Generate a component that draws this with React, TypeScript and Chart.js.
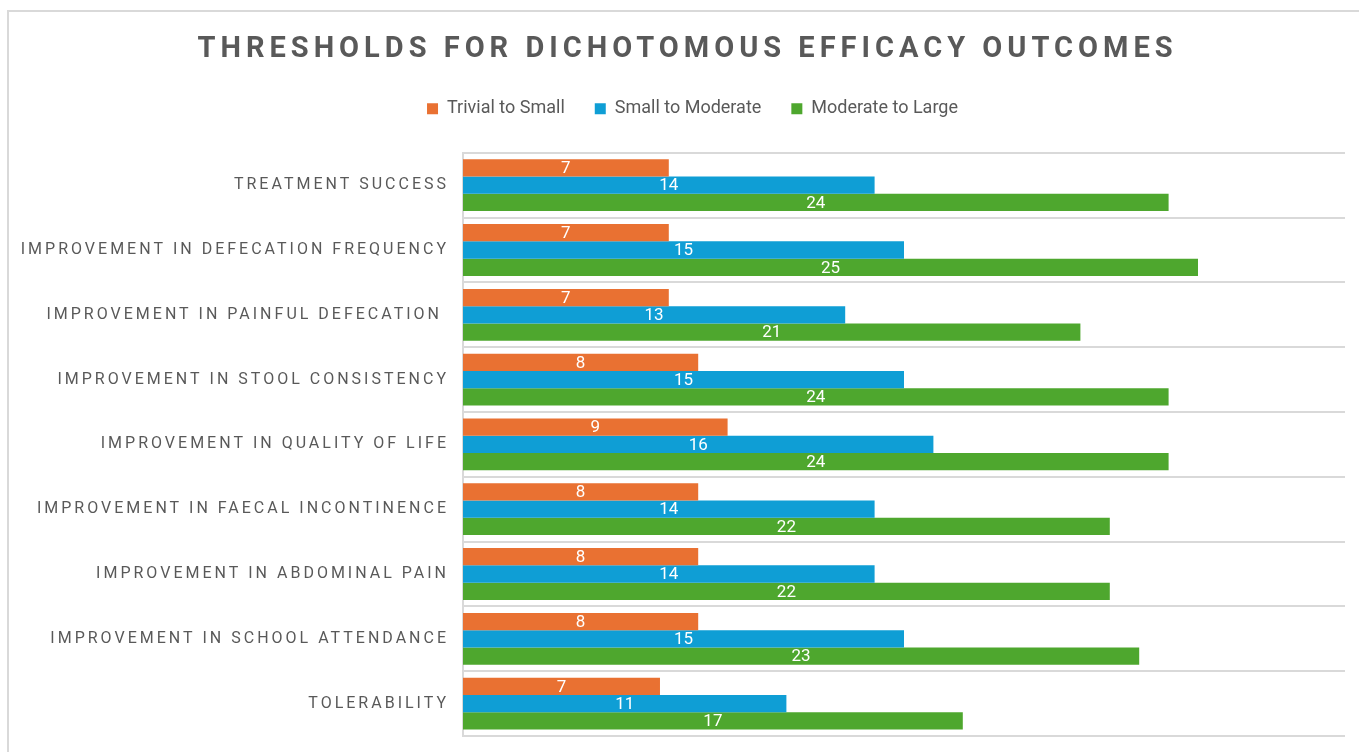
import React, { useEffect, useRef } from "react";
import { Chart, registerables } from "chart.js";

Chart.register(...registerables);

const TITLE = "THRESHOLDS FOR DICHOTOMOUS EFFICACY OUTCOMES";

const categories = [
  "TREATMENT SUCCESS",
  "IMPROVEMENT IN DEFECATION FREQUENCY",
  "IMPROVEMENT IN PAINFUL DEFECATION ",
  "IMPROVEMENT IN STOOL CONSISTENCY",
  "IMPROVEMENT IN QUALITY OF LIFE",
  "IMPROVEMENT IN FAECAL INCONTINENCE",
  "IMPROVEMENT IN ABDOMINAL PAIN",
  "IMPROVEMENT IN SCHOOL ATTENDANCE",
  "TOLERABILITY",
];

const seriesNames = ["Trivial to Small", "Small to Moderate", "Moderate to Large"];
const trivialToSmall = [7, 7, 7, 8, 9, 8, 8, 8, 6.7];
const smallToModerate = [14, 15, 13, 15, 16, 14, 14, 15, 11];
const moderateToLarge = [24, 25, 21, 24, 24, 22, 22, 23, 17];
const seriesColors = ["#E97132", "#0F9ED5", "#4EA72E"];

const X_MIN = 0;
const X_MAX = 30;

const TEXT_COLOR = "#595959";
const GRID_COLOR = "#d9d9d9";
const LEGEND_EXTRA = 25;
const LEGEND_SHIFT = 5;

const helperPlugin = {
  id: "helperPlugin",
  beforeLayout(chart: any) {
    const lg = chart.legend;
    if (lg && !lg.__fit) {
      const of = lg.fit.bind(lg);
      lg.fit = () => {
        of();
        lg.height += LEGEND_EXTRA;
      };
      const od = lg.draw.bind(lg);
      lg.draw = (...args: any[]) => {
        const ctx = chart.ctx;
        ctx.save();
        ctx.translate(LEGEND_SHIFT, 0);
        od(...args);
        ctx.restore();
      };
      lg.__fit = true;
    }
  },
  beforeDraw(chart: any) {
    const ctx = chart.ctx;
    ctx.save();
    ctx.strokeStyle = GRID_COLOR;
    ctx.lineWidth = 2;
    ctx.beginPath();
    ctx.moveTo(8, chart.height);
    ctx.lineTo(8, 11);
    ctx.lineTo(chart.width, 11);
    ctx.stroke();
    ctx.restore();

    const tb = chart.titleBlock;
    if (tb && !tb.__ls) {
      const orig = tb.draw.bind(tb);
      tb.draw = (...args: any[]) => {
        ctx.save();
        ctx.letterSpacing = "5px";
        orig(...args);
        ctx.restore();
      };
      tb.__ls = true;
    }
    const ys = chart.scales.y;
    if (ys && !ys.__ls) {
      const orig = ys.drawLabels.bind(ys);
      ys._computeLabelArea = () => undefined;
      ys.drawLabels = (...args: any[]) => {
        ctx.save();
        ctx.letterSpacing = "3px";
        orig(...args);
        ctx.restore();
      };
      ys.__ls = true;
    }
  },
  afterDatasetsDraw(chart: any) {
    const ctx = chart.ctx;
    ctx.save();
    ctx.fillStyle = "#ffffff";
    ctx.font = "17px Roboto";
    ctx.textAlign = "center";
    ctx.textBaseline = "middle";
    chart.data.datasets.forEach((ds: any, di: number) => {
      const meta = chart.getDatasetMeta(di);
      if (meta.hidden) return;
      meta.data.forEach((el: any, i: number) => {
        const v = ds.data[i];
        const x = (el.base + el.x) / 2;
        ctx.fillText(String(Math.round(v)), x, el.y + 1);
      });
    });
    ctx.restore();
  },
};

export default function App() {
  const canvasRef = useRef<HTMLCanvasElement | null>(null);

  useEffect(() => {
    document.body.style.margin = "0";
    const canvas = canvasRef.current;
    if (!canvas) return;
    const seriesData = [trivialToSmall, smallToModerate, moderateToLarge];
    const chart = new Chart(canvas, {
      type: "bar",
      data: {
        labels: categories,
        datasets: seriesNames.map((name, i) => ({
          label: name,
          data: seriesData[i],
          backgroundColor: seriesColors[i],
          borderWidth: 0,
          categoryPercentage: 0.8,
          barPercentage: 1.0,
        })),
      },
      options: {
        indexAxis: "y",
        animation: false,
        responsive: true,
        maintainAspectRatio: false,
        layout: { padding: { left: 30, right: 14, top: 0, bottom: 16 } },
        plugins: {
          title: {
            display: true,
            text: TITLE,
            color: TEXT_COLOR,
            font: { family: "Roboto", size: 29, weight: "bold" },
            padding: { top: 32, bottom: 3 },
          },
          legend: {
            display: true,
            position: "top",
            labels: {
              color: TEXT_COLOR,
              font: { family: "Roboto", size: 18 },
              boxWidth: 11,
              boxHeight: 11,
              padding: 30,
            },
          },
          tooltip: { enabled: false },
        },
        scales: {
          x: {
            type: "linear",
            display: false,
            min: X_MIN,
            max: X_MAX,
          },
          y: {
            type: "category",
            grid: { color: GRID_COLOR, lineWidth: 2, drawTicks: false, offset: true },
            border: { color: GRID_COLOR, width: 2 },
            ticks: {
              color: TEXT_COLOR,
              font: { family: "Roboto", size: 16 },
              padding: 14,
              autoSkip: false,
            },
            afterFit: (s: any) => {
              s.width = 433;
              s.paddingTop = 0;
              s.paddingBottom = 0;
            },
          },
        },
      },
      plugins: [helperPlugin],
    });
    return () => chart.destroy();
  }, []);

  return (
    <div style={{ position: "relative", width: "1359px", height: "752px" }}>
      <canvas ref={canvasRef} />
    </div>
  );
}
